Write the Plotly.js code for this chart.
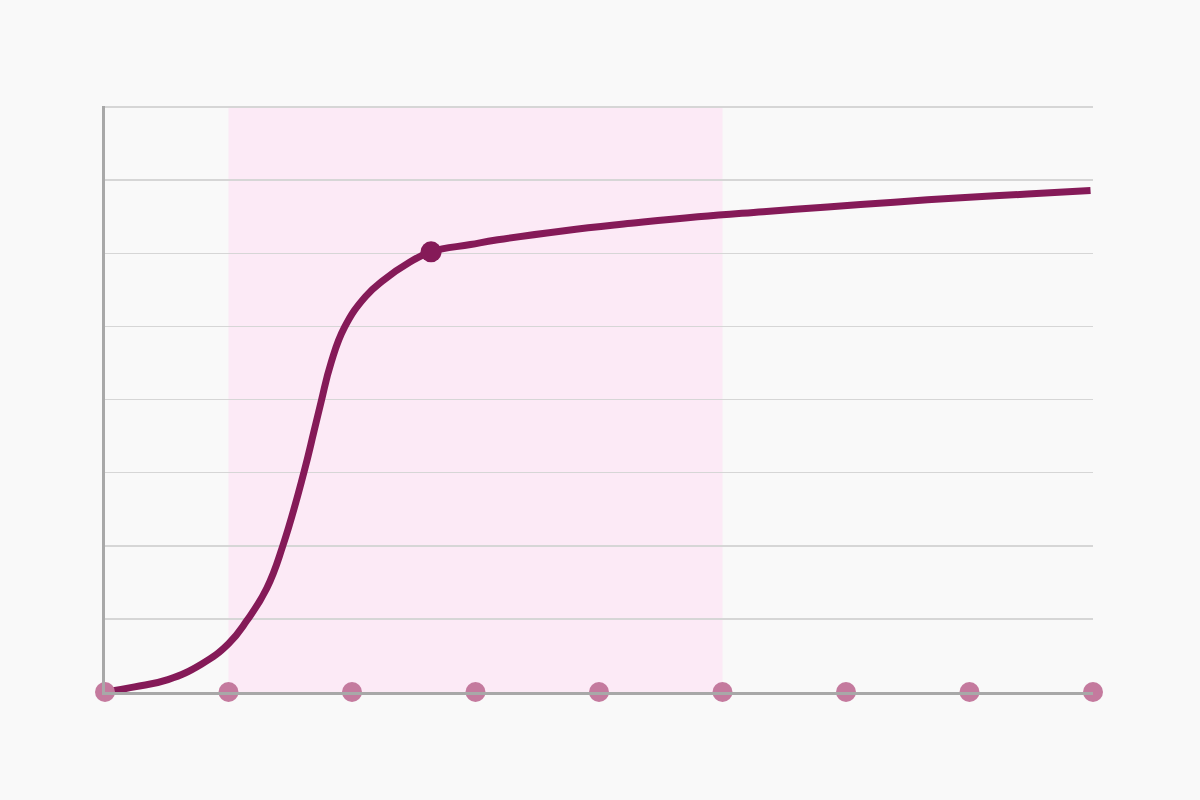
<!DOCTYPE html>
<html>
<head>
<meta charset="utf-8">
<script src="https://cdn.plot.ly/plotly-3.0.1.min.js"></script>
<style>
html,body{margin:0;padding:0;background:#f9f9f9;}
#chart{width:1200px;height:800px;}
</style>
</head>
<body>
<div id="chart"></div>
<script>
// Curve values
const curveX = [0, 0.24, 0.51, 0.78, 1.0, 1.15, 1.31, 1.44, 1.61, 1.69, 1.75, 1.83, 1.94, 2.11, 2.26, 2.45, 2.64, 2.96, 3.18, 3.72, 4.26, 4.8, 5.33, 5.85, 6.39, 6.93, 7.47, 7.98];
const curveY = [0, 0.07, 0.17, 0.38, 0.66, 0.98, 1.42, 2.0, 3.0, 3.55, 3.97, 4.5, 4.99, 5.41, 5.64, 5.86, 6.02, 6.12, 6.185, 6.31, 6.41, 6.5, 6.57, 6.635, 6.7, 6.76, 6.81, 6.86];
// Highlighted point on the curve
const pointX = [2.64];
const pointY = [6.02];
// Tick dots on the x-axis
const tickX = [0, 1, 2, 3, 4, 5, 6, 7, 8];
const tickY = [0, 0, 0, 0, 0, 0, 0, 0, 0];
// Shaded band
const bandStart = 1;
const bandEnd = 5;

const traces = [
  {x: curveX, y: curveY, mode: 'lines', type: 'scatter',
   line: {color: '#851a58', width: 7, shape: 'spline', smoothing: 1.3},
   cliponaxis: false, hoverinfo: 'skip'},
  {x: tickX, y: tickY, mode: 'markers', type: 'scatter',
   marker: {color: '#c47a9e', size: 20}, cliponaxis: false, hoverinfo: 'skip'},
  {x: pointX, y: pointY, mode: 'markers', type: 'scatter',
   marker: {color: '#851a58', size: 21}, cliponaxis: false, hoverinfo: 'skip'}
];

const layout = {
  width: 1200, height: 800,
  paper_bgcolor: '#f9f9f9', plot_bgcolor: '#f9f9f9',
  showlegend: false,
  margin: {l: 105, r: 107, t: 106, b: 108},
  xaxis: {range: [0, 8], showgrid: false, zeroline: false, showticklabels: false,
          ticks: '', showline: true, linecolor: '#a8a8a8', linewidth: 3, fixedrange: true},
  yaxis: {range: [0, 8.015], tick0: 0, dtick: 1, showgrid: true, gridcolor: '#d6d6d6', gridwidth: 1.5,
          zeroline: false, showticklabels: false, ticks: '', showline: true,
          linecolor: '#a8a8a8', linewidth: 3, fixedrange: true},
  shapes: [{type: 'rect', xref: 'x', yref: 'paper', x0: bandStart, x1: bandEnd, y0: 0, y1: 1,
            fillcolor: '#fceaf6', line: {width: 0}, layer: 'below'}]
};

Plotly.newPlot('chart', traces, layout, {displayModeBar: false, staticPlot: true});
</script>
</body>
</html>
